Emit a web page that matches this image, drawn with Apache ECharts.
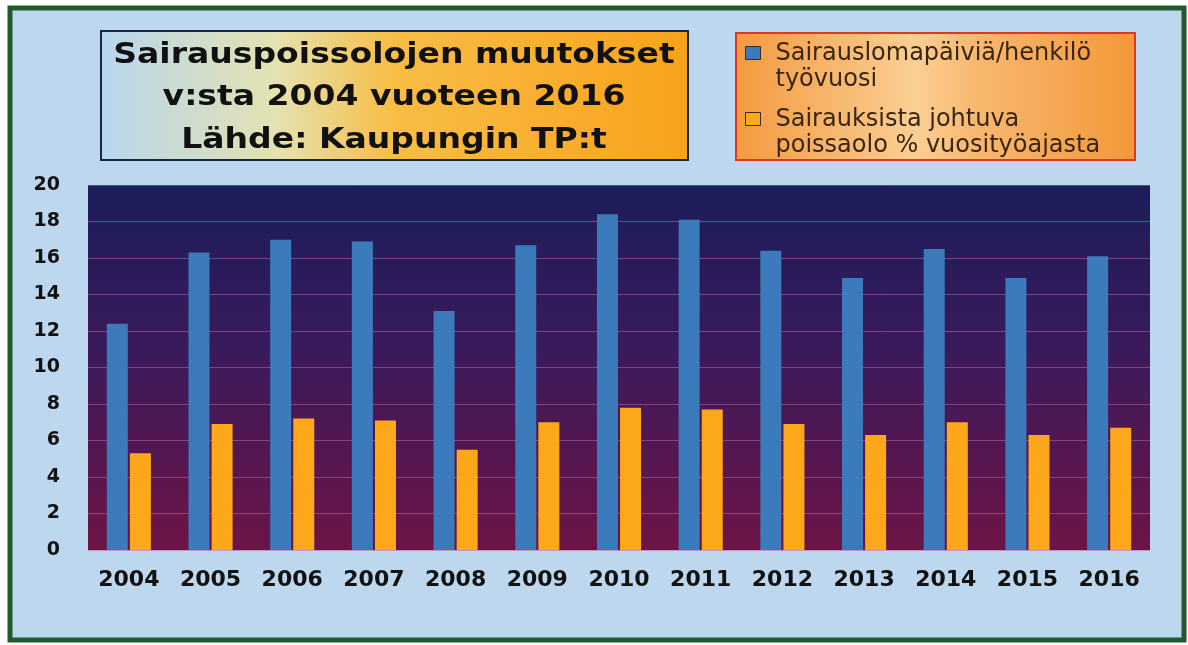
<!DOCTYPE html>
<html lang="fi">
<head>
    <meta charset="UTF-8">
    <title>Sairauspoissolojen muutokset</title>
    <script src="https://cdn.jsdelivr.net/npm/echarts@6/dist/echarts.min.js"></script>
    <style>
        html, body { margin: 0; padding: 0; background: #fff; }
        #chart { width: 1188px; height: 645px; }
    </style>
</head>
<body>
<div id="chart"></div>
<script>
    // data
    var years = ['2004','2005','2006','2007','2008','2009','2010','2011','2012','2013','2014','2015','2016'];
    var paivat = [12.4, 16.3, 17.0, 16.9, 13.1, 16.7, 18.4, 18.1, 16.4, 14.9, 16.5, 14.9, 16.1];
    var prosentti = [5.3, 6.9, 7.2, 7.1, 5.5, 7.0, 7.8, 7.7, 6.9, 6.3, 7.0, 6.3, 6.7];
    var seriesNames = ['Sairauslomapäiviä/henkilö\ntyövuosi', 'Sairauksista johtuva\npoissaolo % vuosityöajasta'];
    var titleLines = ['Sairauspoissolojen muutokset', 'v:sta 2004 vuoteen 2016', 'Lähde: Kaupungin TP:t'];

    var myChart = echarts.init(document.getElementById('chart'));
    var G = echarts.graphic;

    // legend icon: square on the first text line, empty space below
    var legendIcon = 'path://M0,0L0,0Z M0,6H15V19H0Z M25,52L25,52Z';

    var option = {
        backgroundColor: '#ffffff',
        grid: {
            left: 88, right: 38, top: 185, bottom: 95,
            show: true,
            borderWidth: 0,
            backgroundColor: new G.LinearGradient(0, 0, 0, 1, [
                {offset: 0, color: '#1b1d5a'},
                {offset: 0.45, color: '#3a1a5c'},
                {offset: 1, color: '#6d1446'}
            ])
        },
        legend: {
            orient: 'vertical',
            left: 745, top: 40,
            padding: 0,
            itemGap: 13,
            itemWidth: 25, itemHeight: 52,
            icon: legendIcon,
            z: 10,
            data: seriesNames,
            itemStyle: {borderColor: '#3a2a30', borderWidth: 1},
            textStyle: {
                fontFamily: 'DejaVu Sans',
                fontSize: 24,
                lineHeight: 26,
                color: '#3a2612'
            }
        },
        graphic: [
            {   // outer frame
                type: 'rect', z: -10, silent: true,
                shape: {x: 10, y: 8, width: 1174, height: 632},
                style: {fill: '#bdd7ef', stroke: '#23592d', lineWidth: 5}
            },
            {   // title box
                type: 'rect', z: 1, silent: true,
                shape: {x: 101, y: 31, width: 587, height: 129},
                style: {
                    fill: new G.LinearGradient(0, 0, 1, 0, [
                        {offset: 0, color: '#b7d6ef'},
                        {offset: 0.3, color: '#e4e2b0'},
                        {offset: 0.5, color: '#f8bd45'},
                        {offset: 1, color: '#f8a21c'}
                    ]),
                    stroke: '#1d2440', lineWidth: 2
                }
            },
            {
                type: 'text', z: 2, silent: true,
                x: 394, y: 98, scaleX: 1.18,
                style: {
                    text: titleLines.join('\n'),
                    align: 'center', verticalAlign: 'middle',
                    fontFamily: 'DejaVu Sans', fontWeight: 'bold',
                    fontSize: 28, lineHeight: 42.5,
                    fill: '#111'
                }
            },
            {   // legend box
                type: 'rect', z: 1, silent: true,
                shape: {x: 736, y: 33, width: 399, height: 127},
                style: {
                    fill: new G.LinearGradient(0, 0, 1, 0, [
                        {offset: 0, color: '#f39a3e'},
                        {offset: 0.45, color: '#fbcf94'},
                        {offset: 0.6, color: '#f8b870'},
                        {offset: 1, color: '#f29838'}
                    ]),
                    stroke: '#e2361f', lineWidth: 2
                }
            }
        ],
        xAxis: {
            type: 'category',
            data: years,
            axisLine: {show: false},
            axisTick: {show: false},
            axisLabel: {
                interval: 0,
                margin: 19,
                fontFamily: 'DejaVu Sans', fontWeight: 'bold',
                fontSize: 22, color: '#111'
            }
        },
        yAxis: {
            type: 'value',
            min: 0, max: 20, interval: 2,
            axisLine: {show: false},
            axisTick: {show: false},
            axisLabel: {
                margin: 28,
                fontFamily: 'DejaVu Sans', fontWeight: 'bold',
                fontSize: 19, color: '#111'
            },
            splitLine: {lineStyle: {color: 'rgba(190,100,160,0.55)', width: 1}}
        },
        series: [
            {
                name: seriesNames[0],
                type: 'bar',
                barWidth: 21,
                barGap: '10%',
                itemStyle: {color: '#3c7bbb'},
                data: paivat
            },
            {
                name: seriesNames[1],
                type: 'bar',
                barWidth: 21,
                itemStyle: {color: '#fda81a'},
                data: prosentti
            }
        ]
    };
    myChart.setOption(option);
</script>
</body>
</html>
